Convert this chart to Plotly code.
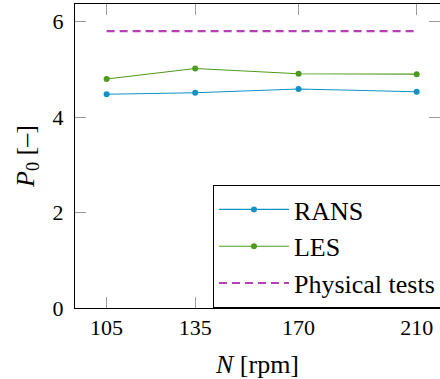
import plotly.graph_objects as go

rpm = [105, 135, 170, 210]
rans = [4.48, 4.51, 4.59, 4.53]
les = [4.80, 5.02, 4.91, 4.90]
physical = [5.80, 5.80, 5.80, 5.80]
x_ticks = [105, 135, 170, 210]
y_ticks = [0, 2, 4, 6]

FONT = "'Liberation Serif', 'DejaVu Serif', 'Times New Roman', serif"

fig = go.Figure()
fig.add_trace(go.Scatter(x=rpm, y=rans, mode="lines+markers", name="RANS",
                         line=dict(color="#1192c4", width=1.1),
                         marker=dict(color="#1192c4", size=6)))
fig.add_trace(go.Scatter(x=rpm, y=les, mode="lines+markers", name="LES",
                         line=dict(color="#4e9a1f", width=1.1),
                         marker=dict(color="#4e9a1f", size=6)))
fig.add_trace(go.Scatter(x=rpm, y=physical, mode="lines", name="Physical tests",
                         line=dict(color="#b43fb6", width=2.2, dash="8px,5px")))
# empty trace to host the right-hand mirrored ticks axis
fig.add_trace(go.Scatter(x=[], y=[], yaxis="y2", showlegend=False, hoverinfo="skip"))

fig.update_layout(
    width=440, height=379,
    margin=dict(l=75, r=0, t=4, b=71, autoexpand=False),
    paper_bgcolor="white", plot_bgcolor="white",
    font=dict(family=FONT, size=22, color="black"),
    showlegend=True,
    legend=dict(x=0.378, xanchor="left", y=0, yanchor="bottom",
                bordercolor="black", borderwidth=1, bgcolor="white",
                font=dict(family=FONT, size=26, color="black"),
                itemwidth=70, tracegroupgap=0),
    xaxis=dict(range=[94.3, 217.9], tickvals=x_ticks, ticktext=[str(v) for v in x_ticks],
               ticks="inside", ticklen=11, tickcolor="#999999", tickwidth=1,
               showline=True, linecolor="black", linewidth=1, mirror="ticks",
               showgrid=False, zeroline=False,
               tickfont=dict(family=FONT, size=22),
               title=dict(text="<i>N</i> [rpm]", font=dict(family=FONT, size=26), standoff=15)),
    yaxis=dict(range=[0, 6.37], tickvals=y_ticks, ticktext=[str(v) for v in y_ticks],
               ticks="inside", ticklen=11, tickcolor="#999999", tickwidth=1,
               showline=True, linecolor="black", linewidth=1,
               showgrid=False, zeroline=False,
               tickfont=dict(family=FONT, size=22), ticklabelstandoff=6,
               title=dict(text="<i>P</i><sub>0</sub> [–]", font=dict(family=FONT, size=26), standoff=10)),
    yaxis2=dict(overlaying="y", side="right", matches="y", range=[0, 6.37],
                tickvals=y_ticks, ticks="inside", ticklen=11, tickcolor="#999999",
                showticklabels=False, showline=False, showgrid=False, zeroline=False),
)

fig.write_html("out.html")
